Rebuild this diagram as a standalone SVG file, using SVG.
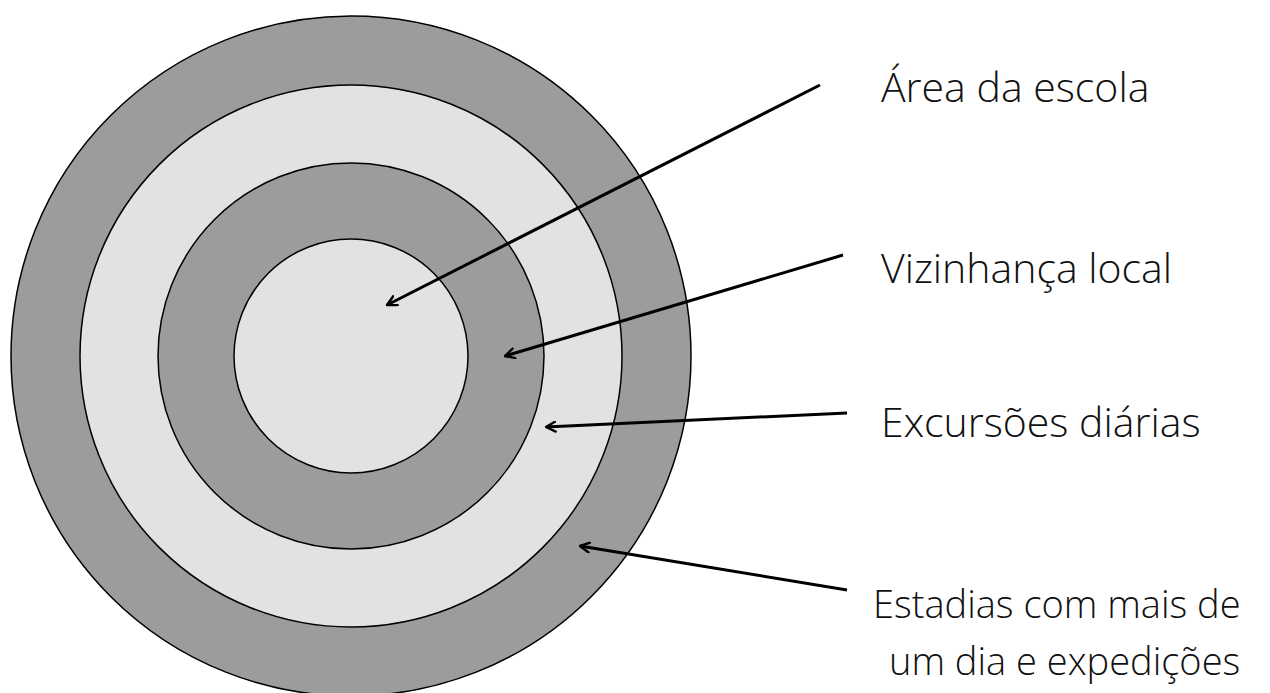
<svg xmlns="http://www.w3.org/2000/svg" width="1270" height="693" viewBox="0 0 1270 693">
<defs>
<style>
.ring{stroke:#000;stroke-width:1.5}
.dark{fill:#9c9c9c}
.light{fill:#e2e2e2}
.conn{stroke:#000;stroke-width:3;fill:none;marker-end:url(#head)}
.lbl{font-family:"Open Sans","Liberation Sans",sans-serif;font-weight:300;font-size:41px;fill:#111}
.lbl.sm{font-size:38px}
</style>
<marker id="head" viewBox="0 0 12 12" refX="10.5" refY="6" markerWidth="12" markerHeight="12" markerUnits="userSpaceOnUse" orient="auto">
<path d="M1,1 L10.5,6 L1,11" fill="none" stroke="#000" stroke-width="2.4" stroke-linecap="round" stroke-linejoin="round"/>
</marker>
</defs>
<rect width="1270" height="693" fill="#fff"/>
<g id="ring-stays"><circle class="ring dark" cx="351" cy="356" r="340"/></g>
<g id="ring-day-trips"><circle class="ring light" cx="351" cy="356" r="271"/></g>
<g id="ring-neighbourhood"><circle class="ring dark" cx="351" cy="356" r="193"/></g>
<g id="ring-school"><circle class="ring light" cx="351" cy="356" r="117"/></g>
<g id="connectors">
<path class="conn" d="M820,85 L387,305"/>
<path class="conn" d="M843,255 L505,356"/>
<path class="conn" d="M847,413 L546,427"/>
<path class="conn" d="M847,590 L580,546"/>
</g>
<g id="label-school"><text class="lbl" x="881" y="102">Área da escola</text></g>
<g id="label-neighbourhood"><text class="lbl" x="881" y="283">Vizinhança local</text></g>
<g id="label-day-trips"><text class="lbl" x="881" y="437">Excursões diárias</text></g>
<g id="label-stays"><text class="lbl sm" x="873" y="618">Estadias com mais de</text><text class="lbl sm" x="889" y="675">um dia e expedições</text></g>
</svg>
